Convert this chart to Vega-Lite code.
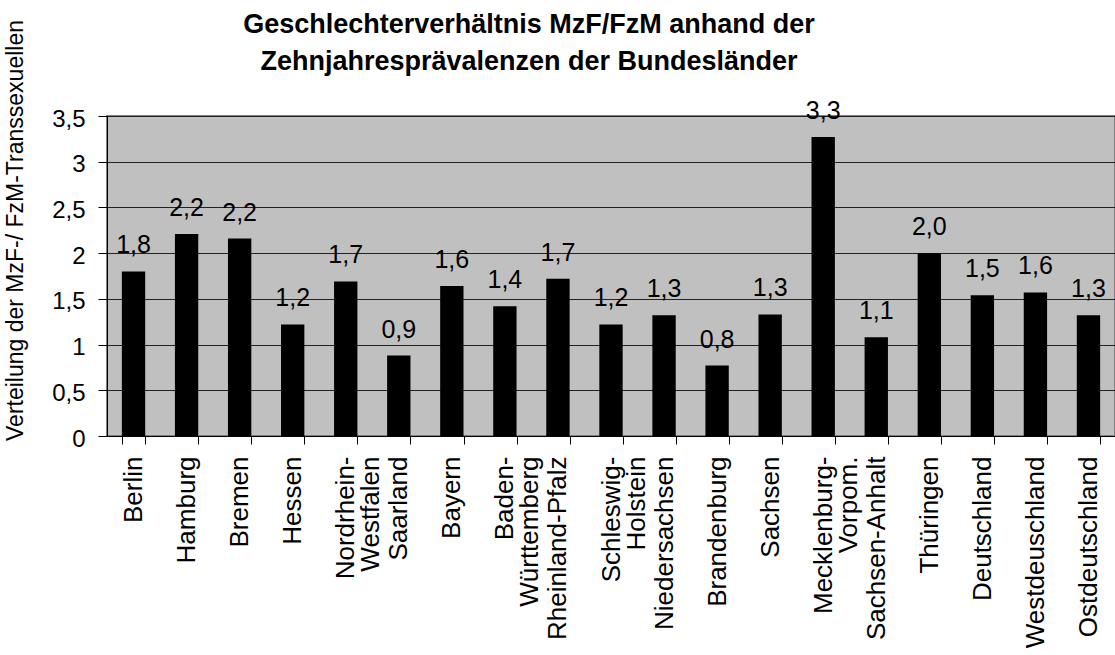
{
  "$schema": "https://vega.github.io/schema/vega-lite/v6.json",
  "width": 1008,
  "height": 320,
  "autosize": {"type": "none"},
  "padding": {"left": 107, "top": 116, "right": 0, "bottom": 219},
  "title": {
    "text": ["Geschlechterverhältnis MzF/FzM anhand der", "Zehnjahresprävalenzen der Bundesländer"],
    "font": "Liberation Sans",
    "fontSize": 27,
    "fontWeight": "bold",
    "color": "black",
    "anchor": "middle",
    "dx": -82,
    "dy": 66,
    "lineHeight": 37,
    "offset": 10
  },
  "data": {
    "values": [
      {"land": "Berlin", "v": 1.80},
      {"land": "Hamburg", "v": 2.21},
      {"land": "Bremen", "v": 2.16},
      {"land": "Hessen", "v": 1.22},
      {"land": "Nordrhein-|Westfalen", "v": 1.69},
      {"land": "Saarland", "v": 0.88},
      {"land": "Bayern", "v": 1.64},
      {"land": "Baden-|Württemberg", "v": 1.42},
      {"land": "Rheinland-Pfalz", "v": 1.72},
      {"land": "Schleswig-|Holstein", "v": 1.22},
      {"land": "Niedersachsen", "v": 1.32},
      {"land": "Brandenburg", "v": 0.77},
      {"land": "Sachsen", "v": 1.33},
      {"land": "Mecklenburg-|Vorpom.", "v": 3.27},
      {"land": "Sachsen-Anhalt", "v": 1.08},
      {"land": "Thüringen", "v": 2.00},
      {"land": "Deutschland", "v": 1.54},
      {"land": "Westdeuschland", "v": 1.57},
      {"land": "Ostdeutschland", "v": 1.32}
    ]
  },
  "encoding": {
    "x": {
      "field": "land",
      "type": "nominal",
      "sort": null,
      "scale": {"paddingInner": 0.56, "paddingOuter": 0.28},
      "axis": {
        "title": null,
        "labelAngle": -90,
        "labelAlign": "right",
        "labelBaseline": "middle",
        "labelFont": "Liberation Sans",
        "labelFontSize": 26,
        "labelLineHeight": 25,
        "labelColor": "black",
        "labelLimit": 400,
        "labelPadding": 12,
        "labelExpr": "split(datum.label, '|')",
        "tickBand": "extent",
        "tickSize": 8,
        "tickColor": "black",
        "domainColor": "black",
        "grid": false,
        "encode": {
          "labels": {
            "update": {
              "dy": {"signal": "indexof(datum.value, '|') >= 0 ? -12 : 0"}
            }
          }
        }
      }
    },
    "y": {
      "field": "v",
      "type": "quantitative",
      "scale": {"domain": [0, 3.5]},
      "axis": {
        "title": "Verteilung der MzF-/ FzM-Transsexuellen",
        "values": [0, 0.5, 1, 1.5, 2, 2.5, 3, 3.5],
        "format": "~g",
        "labelFont": "Liberation Sans",
        "labelFontSize": 24,
        "labelColor": "black",
        "labelPadding": 13,
        "labelOffset": 3,
        "tickSize": 9,
        "tickColor": "black",
        "domainColor": "black",
        "gridColor": "#222222",
        "titleFont": "Liberation Sans",
        "titleFontSize": 23,
        "titleFontWeight": "normal",
        "titleColor": "black",
        "titleAngle": -90,
        "titleAlign": "center",
        "titleBaseline": "alphabetic",
        "titleX": -85,
        "titleY": 114
      }
    }
  },
  "layer": [
    {"mark": {"type": "bar", "color": "black"}},
    {
      "mark": {"type": "text", "dy": -18, "baseline": "alphabetic", "font": "Liberation Sans", "fontSize": 25, "color": "black"},
      "encoding": {"text": {"field": "v", "type": "quantitative", "format": ".1f"}}
    }
  ],
  "config": {
    "view": {"fill": "#C0C0C0", "stroke": "#808080", "strokeWidth": 2},
    "locale": {"number": {"decimal": ",", "thousands": ".", "grouping": [3], "currency": ["", " €"]}}
  }
}
